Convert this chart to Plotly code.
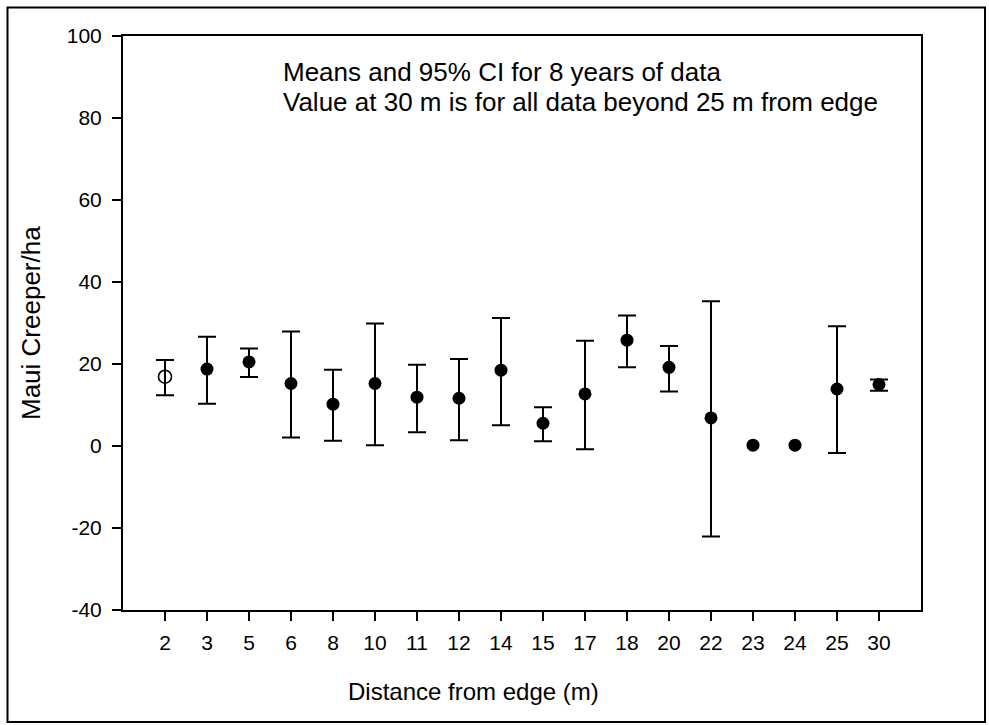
import plotly.graph_objects as go

# Data
distances = ["2", "3", "5", "6", "8", "10", "11", "12", "14", "15", "17", "18", "20", "22", "23", "24", "25", "30"]
means = [16.9, 18.75, 20.5, 15.25, 10.2, 15.25, 11.9, 11.65, 18.5, 5.55, 12.7, 25.8, 19.2, 6.85, 0.2, 0.2, 13.9, 15.0]
ci_upper = [20.95, 26.65, 23.8, 27.9, 18.6, 29.9, 19.8, 21.2, 31.2, 9.46, 25.7, 31.8, 24.4, 35.3, None, None, 29.2, 16.2]
ci_lower = [12.4, 10.3, 16.8, 2.1, 1.3, 0.2, 3.35, 1.4, 5.06, 1.15, -0.8, 19.2, 13.3, -22.1, None, None, -1.7, 13.5]
open_marker = [True] + [False] * 17

y_tickvals = [-40, -20, 0, 20, 40, 60, 80, 100]
y_ticktext = ["-40", "-20", "0", "20", "40", "60", "80", "100"]

note_lines = ["Means and 95% CI for 8 years of data",
              "Value at 30 m is for all data beyond 25 m from edge"]

FONT = "Liberation Sans, Arial, sans-serif"

# plot-area geometry in page pixels
W, H = 989, 725
L, R, T, B = 123, 921, 36, 610
PW, PH = R - L, B - T


def px_x(p):
    return (p - L) / PW


def px_y(p):
    return (B - p) / PH


fig = go.Figure()

groups = [
    ("circle-open", lambda i: open_marker[i] and ci_upper[i] is not None),
    ("circle", lambda i: (not open_marker[i]) and ci_upper[i] is not None),
    ("circle", lambda i: (not open_marker[i]) and ci_upper[i] is None),
]
for symbol, sel in groups:
    idx = [i for i in range(len(distances)) if sel(i)]
    if not idx:
        continue
    has_ci = ci_upper[idx[0]] is not None
    tr = dict(
        x=[distances[i] for i in idx],
        y=[means[i] for i in idx],
        mode="markers",
        marker=dict(symbol=symbol, size=13, color="black",
                    line=dict(color="black", width=1.6 if symbol == "circle-open" else 0)),
        showlegend=False,
    )
    if has_ci:
        tr["error_y"] = dict(
            type="data", symmetric=False,
            array=[ci_upper[i] - means[i] for i in idx],
            arrayminus=[means[i] - ci_lower[i] for i in idx],
            color="black", thickness=2, width=9,
        )
    fig.add_trace(go.Scatter(**tr))

axis_common = dict(
    showline=True, linecolor="black", linewidth=2, mirror=True,
    ticks="outside", ticklen=9, tickwidth=2, tickcolor="black",
    showgrid=False, zeroline=False,
    tickfont=dict(family=FONT, size=21, color="black"),
)

fig.update_xaxes(
    type="category", categoryorder="array", categoryarray=distances,
    range=[-1, 18], ticklabelstandoff=4,
    **axis_common,
)
fig.update_yaxes(
    range=[-40, 100], tickvals=y_tickvals, ticktext=y_ticktext,
    ticklabelstandoff=6,
    **axis_common,
)

# axis titles
fig.add_annotation(xref="paper", yref="paper", x=px_x(473), y=px_y(691),
                   xanchor="center", yanchor="middle", showarrow=False,
                   text="Distance from edge (m)",
                   font=dict(family=FONT, size=24, color="black"))
fig.add_annotation(xref="paper", yref="paper", x=px_x(31), y=px_y(323),
                   xanchor="center", yanchor="middle", showarrow=False, textangle=-90,
                   text="Maui Creeper/ha",
                   font=dict(family=FONT, size=26, color="black"))

# note text
for line, ypix in zip(note_lines, [72, 102]):
    fig.add_annotation(xref="paper", yref="paper", x=px_x(281), y=px_y(ypix),
                       xanchor="left", yanchor="middle", showarrow=False, align="left",
                       text=line, font=dict(family=FONT, size=26, color="black"))

# outer frame around the whole graphic
fig.add_shape(
    type="rect", xref="paper", yref="paper",
    x0=px_x(7.5), x1=px_x(985), y0=px_y(722), y1=px_y(7.5),
    line=dict(color="black", width=2), fillcolor="rgba(0,0,0,0)", layer="below",
)

fig.update_layout(
    width=W, height=H,
    margin=dict(l=L, r=W - R, t=T, b=H - B),
    paper_bgcolor="white", plot_bgcolor="white",
    font=dict(family=FONT, color="black"),
)

fig.write_html("out.html", config={"displayModeBar": False},
               post_script="document.body.style.margin='0px';")
